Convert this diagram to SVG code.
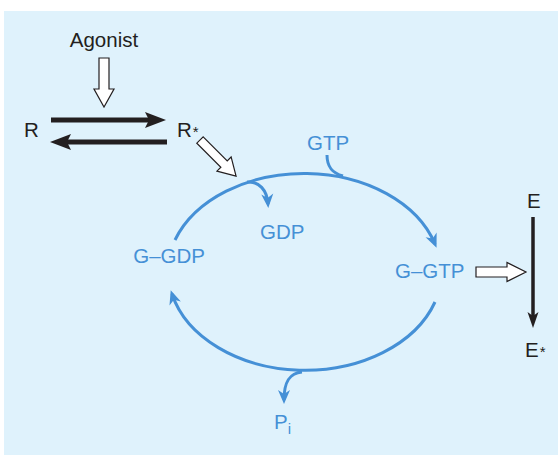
<svg xmlns="http://www.w3.org/2000/svg" width="558" height="455" viewBox="0 0 558 455">
<style>
.t{font-family:"Liberation Sans",Arial,sans-serif;font-size:20.5px}
.k{fill:#231F20}
.b{fill:#4590D6}
.sup{font-size:15px}
.cyc{fill:none;stroke:#4590D6;stroke-width:3}
.hollow{fill:#FFFFFF;stroke:#231F20;stroke-width:1.2;stroke-linejoin:miter}
.blk{stroke:#231F20;fill:none}
.head{fill:#231F20}
</style>
<defs>
<marker id="ba" markerUnits="userSpaceOnUse" markerWidth="14" markerHeight="12" viewBox="0 0 14 12" refX="10" refY="6" orient="auto" overflow="visible">
<path d="M0,0 L14,6 L0,12 L4,6 Z" fill="#4590D6"/>
</marker>
</defs>
<rect x="0" y="0" width="558" height="455" fill="#FFFFFF"/>
<rect x="4" y="11" width="554" height="444" fill="#DFF2FC"/>

<g id="agonist"><text class="t k" x="104" y="47" text-anchor="middle">Agonist</text></g>
<g id="R"><text class="t k" x="24" y="137">R</text></g>
<g id="Rstar"><text class="t k" x="177" y="137">R<tspan class="sup" dx="1">*</tspan></text></g>
<g id="GTP"><text class="t b" x="307" y="150">GTP</text></g>
<g id="GDP"><text class="t b" x="260" y="239">GDP</text></g>
<g id="G-GDP"><text class="t b" x="205" y="263" text-anchor="end">G–GDP</text></g>
<g id="G-GTP"><text class="t b" x="395" y="278">G–GTP</text></g>
<g id="E"><text class="t k" x="527" y="208">E</text></g>
<g id="Estar"><text class="t k" x="525" y="357">E<tspan class="sup" dx="1">*</tspan></text></g>
<g id="Pi"><text class="t b" x="274" y="429">P<tspan class="sup" dy="5">i</tspan></text></g>

<g id="connectors">
<polygon class="hollow" points="99,58 109,58 109,89 114,89 104,107 94,89 99,89"/>
<line class="blk" x1="51" y1="120" x2="150" y2="120" stroke-width="5"/>
<polygon class="head" points="145,112 166,120 145,128 149,120"/>
<line class="blk" x1="167" y1="142" x2="66" y2="142" stroke-width="5"/>
<polygon class="head" points="71,134 50,142 71,150 67,142"/>
<g transform="translate(200,140) rotate(45)">
<polygon class="hollow" points="0,-4.5 34,-4.5 34,-10 51,0 34,10 34,4.5 0,4.5"/>
</g>
<path class="cyc" d="M175,240 A137,100 0 0 1 435,244" marker-end="url(#ba)"/>
<path class="cyc" d="M435,302 A137,100 0 0 1 172,294" marker-end="url(#ba)"/>
<path class="cyc" d="M247,182 C259,181 267,190 268,204" marker-end="url(#ba)"/>
<path class="cyc" d="M327,155 C327,167 332,173 343,176"/>
<path class="cyc" d="M302,372 C290,373 284,381 284,400" marker-end="url(#ba)"/>
<polygon class="hollow" points="476,267 507,267 507,262.5 526,272 507,281.5 507,277 476,277"/>
<line class="blk" x1="533" y1="217" x2="533" y2="318" stroke-width="3.5"/>
<polygon class="head" points="527.5,312 533,328 538.5,312 533,316"/>
</g>
</svg>
